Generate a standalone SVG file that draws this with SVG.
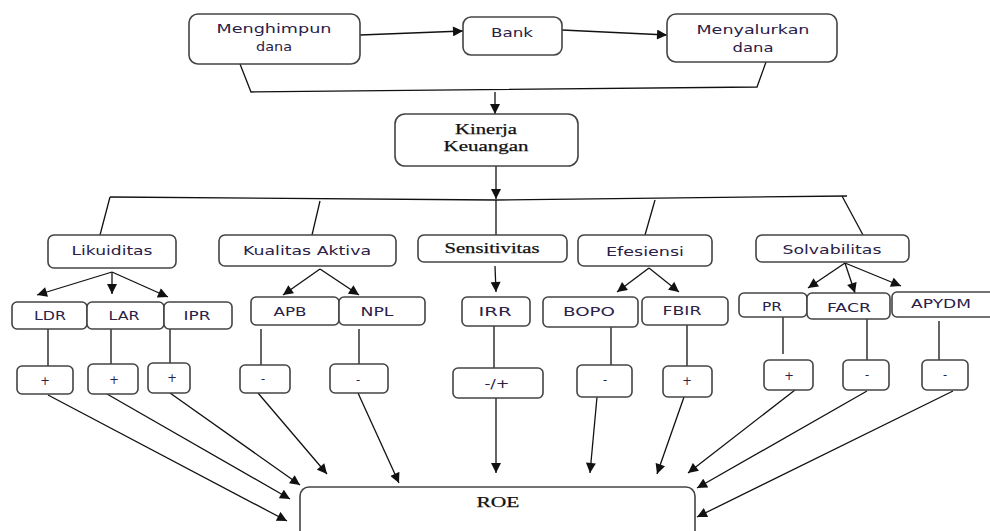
<svg xmlns="http://www.w3.org/2000/svg" width="990" height="531" viewBox="0 0 990 531">
<defs>
<marker id="ah" viewBox="0 0 10 10" refX="10" refY="5" markerWidth="11" markerHeight="10" markerUnits="userSpaceOnUse" orient="auto">
<path d="M0,0 L10,5 L0,10 z" fill="#111"/>
</marker>
<style>
.box{fill:#fff;stroke:#444;stroke-width:1.6}
.sans{font-family:"DejaVu Sans","Liberation Sans",sans-serif;font-size:11.5px;fill:#2a2048;text-anchor:middle}
.serif{font-family:"Liberation Serif","DejaVu Serif",serif;font-size:15px;fill:#111;text-anchor:middle;stroke:#111;stroke-width:0.25}
.ln{fill:none;stroke:#111;stroke-width:1.3}
.ar{fill:none;stroke:#111;stroke-width:1.3;marker-end:url(#ah)}
</style>
</defs>
<rect width="990" height="531" fill="#fff"/>

<g id="connectors">
<path class="ar" d="M360,35 L463,31"/>
<path class="ar" d="M562,30 L667,35"/>
<path class="ln" d="M240,64 L251,92 L757,87 L766,62"/>
<path class="ar" d="M495,92 L495,114"/>
<path class="ar" d="M496,166 L496,199"/>
<path class="ln" d="M110,197 L496,200 L847,196"/>
<path class="ln" d="M110,197 L100,235"/>
<path class="ln" d="M320,201 L312,235"/>
<path class="ln" d="M496,200 L496,235"/>
<path class="ln" d="M655,200 L645,235"/>
<path class="ln" d="M842,196 L863,235"/>
<path class="ar" d="M112,272 L37,295"/>
<path class="ar" d="M112,272 L112,294"/>
<path class="ar" d="M112,272 L168,297"/>
<path class="ar" d="M320,269 L283,295"/>
<path class="ar" d="M320,269 L359,295"/>
<path class="ar" d="M495,266 L496,292"/>
<path class="ar" d="M649,268 L617,292"/>
<path class="ar" d="M649,268 L679,292"/>
<path class="ar" d="M845,263 L808,288"/>
<path class="ar" d="M845,263 L855,293"/>
<path class="ar" d="M845,263 L901,286"/>
<path class="ln" d="M48,329 L48,366"/>
<path class="ln" d="M111,329 L111,364"/>
<path class="ln" d="M170,328 L170,363"/>
<path class="ln" d="M261,329 L261,365"/>
<path class="ln" d="M359,329 L359,364"/>
<path class="ln" d="M494,326 L494,368"/>
<path class="ln" d="M611,327 L611,365"/>
<path class="ln" d="M687,325 L687,366"/>
<path class="ln" d="M783,317 L783,354"/>
<path class="ln" d="M867,319 L867,360"/>
<path class="ln" d="M939,321 L939,360"/>
<path class="ar" d="M48,395 L287,521"/>
<path class="ar" d="M107,394 L290,499"/>
<path class="ar" d="M170,393 L300,485"/>
<path class="ar" d="M258,393 L327,474"/>
<path class="ar" d="M358,393 L399,483"/>
<path class="ar" d="M496,398 L496,473"/>
<path class="ar" d="M597,397 L590,473"/>
<path class="ar" d="M684,397 L657,474"/>
<path class="ar" d="M795,390 L688,473"/>
<path class="ar" d="M867,391 L697,488"/>
<path class="ar" d="M953,391 L697,517"/>
</g>

<g id="menghimpun"><rect class="box" x="189" y="14" width="171" height="50" rx="9"/>
<text class="sans" x="274" y="33" textLength="115" lengthAdjust="spacingAndGlyphs">Menghimpun</text>
<text class="sans" x="274" y="51" textLength="36" lengthAdjust="spacingAndGlyphs">dana</text></g>
<g id="bank"><rect class="box" x="463" y="17" width="99" height="38" rx="8"/>
<text class="sans" x="512" y="37" textLength="42" lengthAdjust="spacingAndGlyphs">Bank</text></g>
<g id="menyalurkan"><rect class="box" x="667" y="14" width="170" height="48" rx="9"/>
<text class="sans" x="753" y="34" textLength="113" lengthAdjust="spacingAndGlyphs">Menyalurkan</text>
<text class="sans" x="753" y="52" textLength="41" lengthAdjust="spacingAndGlyphs">dana</text></g>
<g id="kinerja"><rect class="box" x="395" y="114" width="183" height="52" rx="10"/>
<text class="serif" x="486" y="134" textLength="62" lengthAdjust="spacingAndGlyphs">Kinerja</text>
<text class="serif" x="486" y="151" textLength="85" lengthAdjust="spacingAndGlyphs">Keuangan</text></g>

<g id="likuiditas"><rect class="box" x="48" y="235" width="128" height="33" rx="6"/>
<text class="sans" x="112" y="255" textLength="81" lengthAdjust="spacingAndGlyphs">Likuiditas</text></g>
<g id="kualitas"><rect class="box" x="219" y="235" width="177" height="31" rx="6"/>
<text class="sans" x="307" y="255" textLength="128" lengthAdjust="spacingAndGlyphs">Kualitas Aktiva</text></g>
<g id="sensitivitas"><rect class="box" x="418" y="235" width="149" height="27" rx="6"/>
<text class="serif" x="492" y="253" textLength="95" lengthAdjust="spacingAndGlyphs" style="font-size:14px">Sensitivitas</text></g>
<g id="efesiensi"><rect class="box" x="578" y="235" width="134" height="31" rx="6"/>
<text class="sans" x="645" y="256" textLength="78" lengthAdjust="spacingAndGlyphs">Efesiensi</text></g>
<g id="solvabilitas"><rect class="box" x="756" y="235" width="153" height="27" rx="6"/>
<text class="sans" x="832" y="254" textLength="99" lengthAdjust="spacingAndGlyphs">Solvabilitas</text></g>

<g id="ldr"><rect class="box" x="12" y="302" width="75" height="27" rx="5"/>
<text class="sans" x="50" y="320" textLength="32" lengthAdjust="spacingAndGlyphs">LDR</text></g>
<g id="lar"><rect class="box" x="87" y="302" width="77" height="27" rx="5"/>
<text class="sans" x="124" y="320" textLength="31" lengthAdjust="spacingAndGlyphs">LAR</text></g>
<g id="ipr"><rect class="box" x="164" y="302" width="68" height="27" rx="5"/>
<text class="sans" x="197" y="320" textLength="27" lengthAdjust="spacingAndGlyphs">IPR</text></g>
<g id="apb"><rect class="box" x="251" y="297" width="88" height="28" rx="5"/>
<text class="sans" x="290" y="316" textLength="33" lengthAdjust="spacingAndGlyphs">APB</text></g>
<g id="npl"><rect class="box" x="339" y="297" width="86" height="28" rx="5"/>
<text class="sans" x="377" y="316" textLength="33" lengthAdjust="spacingAndGlyphs">NPL</text></g>
<g id="irr"><rect class="box" x="462" y="297" width="68" height="29" rx="5"/>
<text class="sans" x="495" y="316" textLength="33" lengthAdjust="spacingAndGlyphs">IRR</text></g>
<g id="bopo"><rect class="box" x="543" y="297" width="95" height="30" rx="5"/>
<text class="sans" x="589" y="316" textLength="52" lengthAdjust="spacingAndGlyphs">BOPO</text></g>
<g id="fbir"><rect class="box" x="642" y="297" width="86" height="28" rx="5"/>
<text class="sans" x="682" y="315" textLength="39" lengthAdjust="spacingAndGlyphs">FBIR</text></g>
<g id="pr"><rect class="box" x="739" y="293" width="68" height="24" rx="5"/>
<text class="sans" x="772" y="311" textLength="20" lengthAdjust="spacingAndGlyphs">PR</text></g>
<g id="facr"><rect class="box" x="807" y="293" width="83" height="26" rx="5"/>
<text class="sans" x="849" y="312" textLength="44" lengthAdjust="spacingAndGlyphs">FACR</text></g>
<g id="apydm"><rect class="box" x="892" y="292" width="110" height="25" rx="5"/>
<text class="sans" x="941" y="308" textLength="60" lengthAdjust="spacingAndGlyphs">APYDM</text></g>

<g id="s-ldr"><rect class="box" x="17" y="366" width="56" height="28" rx="5"/><text class="sans" x="45" y="385">+</text></g>
<g id="s-lar"><rect class="box" x="88" y="364" width="50" height="30" rx="5"/><text class="sans" x="114" y="384">+</text></g>
<g id="s-ipr"><rect class="box" x="148" y="363" width="42" height="30" rx="5"/><text class="sans" x="172" y="382">+</text></g>
<g id="s-apb"><rect class="box" x="240" y="365" width="50" height="28" rx="5"/><text class="sans" x="263" y="383">-</text></g>
<g id="s-npl"><rect class="box" x="330" y="364" width="58" height="29" rx="5"/><text class="sans" x="358" y="384">-</text></g>
<g id="s-irr"><rect class="box" x="453" y="368" width="90" height="30" rx="5"/><text class="sans" x="497" y="388" textLength="25" lengthAdjust="spacingAndGlyphs">-/+</text></g>
<g id="s-bopo"><rect class="box" x="577" y="365" width="55" height="32" rx="5"/><text class="sans" x="605" y="384">-</text></g>
<g id="s-fbir"><rect class="box" x="663" y="366" width="49" height="31" rx="5"/><text class="sans" x="687" y="385">+</text></g>
<g id="s-pr"><rect class="box" x="764" y="360" width="49" height="30" rx="5"/><text class="sans" x="789" y="380">+</text></g>
<g id="s-facr"><rect class="box" x="843" y="360" width="46" height="30" rx="5"/><text class="sans" x="867" y="379">-</text></g>
<g id="s-apydm"><rect class="box" x="922" y="360" width="46" height="30" rx="5"/><text class="sans" x="945" y="379">-</text></g>

<g id="roe"><rect class="box" x="300" y="487" width="395" height="70" rx="9"/>
<text class="serif" x="498" y="507" textLength="43" lengthAdjust="spacingAndGlyphs">ROE</text></g>
</svg>
